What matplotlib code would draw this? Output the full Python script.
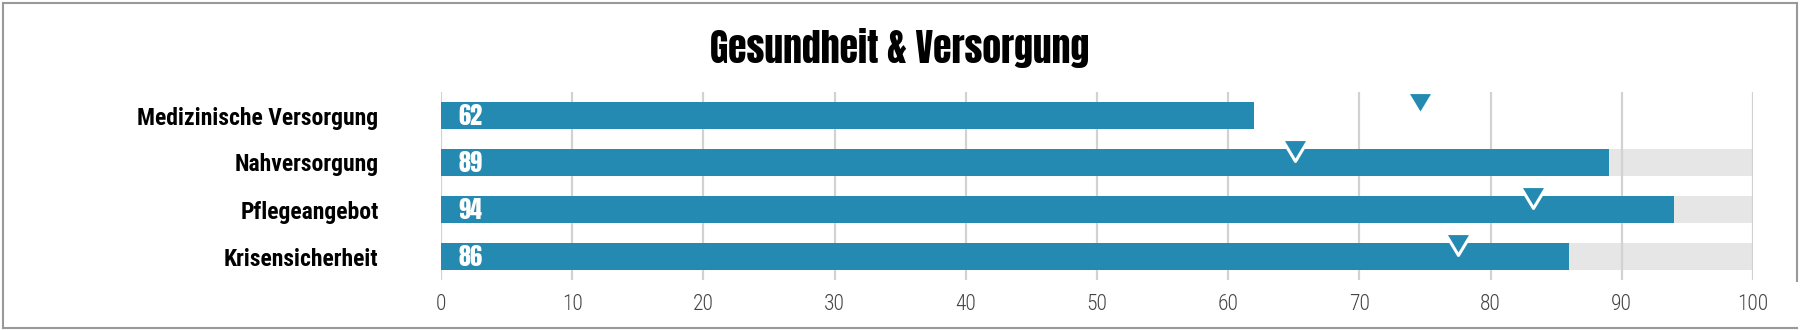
import matplotlib
matplotlib.use("Agg")
import matplotlib.pyplot as plt
from matplotlib import font_manager as fm
from matplotlib.lines import Line2D

# Daten
title = "Gesundheit & Versorgung"
categories = ["Medizinische Versorgung", "Nahversorgung", "Pflegeangebot", "Krisensicherheit"]
values = [62, 89, 94, 86]
targets = [74.6, 65.1, 83.2, 77.5]
show_track = [False, True, True, True]
max_value = 100
ticks = [0, 10, 20, 30, 40, 50, 60, 70, 80, 90, 100]

blue = "#248ab2"
track = "#e6e6e6"

installed = {f.name for f in fm.fontManager.ttflist}


def pick(*names):
    for n in names:
        if n in installed:
            return [n, "DejaVu Sans"]
    return ["DejaVu Sans"]


heavy = pick("Anton", "Oswald", "Bebas Neue", "Fjalla One")
cond = pick("Roboto Condensed", "Pragati Narrow", "Liberation Sans Narrow")

W, H = 1800, 330
fig = plt.figure(figsize=(W / 100, H / 100), dpi=100)
ax = fig.add_axes([441 / W, 50 / H, 1312 / W, 188 / H])

rows = list(range(len(categories)))

# grauer Hintergrund bis 100
for i, v in enumerate(values):
    if show_track[i]:
        ax.barh(i, max_value - v, left=v, height=0.556, color=track, zorder=1)

ax.barh(rows, values, height=0.556, color=blue, zorder=3)

# Zielmarken
tri = [(-1, 0.83), (1, 0.83), (0, -0.83), (-1, 0.83)]
for i, t in enumerate(targets):
    ax.plot(t, i - 0.256, marker=tri, ms=19, color=blue, mec="white",
            mew=2.2, zorder=4, clip_on=False)

# Werte in den Balken
for i, v in enumerate(values):
    ax.text(1.3, i + 0.02, str(v), color="white", fontsize=17.5,
            family=heavy, va="center", ha="left", zorder=5)

ax.set_xlim(0, max_value)
ax.set_ylim(len(categories) - 0.5, -0.5)
ax.set_xticks(ticks)
ax.set_xticklabels([str(t) for t in ticks], family=cond, fontweight="light",
                   fontsize=15.5, color="#444444")
ax.set_yticks(rows)
ax.set_yticklabels(categories, family=cond, fontsize=17, fontweight="bold", color="black")
ax.tick_params(axis="y", length=0, pad=45)
ax.tick_params(axis="x", length=0, pad=10)
ax.grid(axis="x", color="#d2d2d2", lw=1.6)
ax.grid(axis="y", visible=False)
ax.set_axisbelow("line")
for s in ax.spines.values():
    s.set_visible(False)

fig.text(0.5, 1 - 48 / H, title, ha="center", va="center", fontsize=27,
         family=heavy)

# Rahmen
border = "#999999"
fig.add_artist(Line2D([3 / W, 1797 / W], [1 - 3 / H, 1 - 3 / H], transform=fig.transFigure, color=border, lw=1.5))
fig.add_artist(Line2D([3 / W, 3 / W], [2.5 / H, 1 - 3 / H], transform=fig.transFigure, color=border, lw=1.5))
fig.add_artist(Line2D([3 / W, 1797 / W], [2.5 / H, 2.5 / H], transform=fig.transFigure, color=border, lw=1.5))
fig.add_artist(Line2D([1797 / W, 1797 / W], [1 - 281 / H, 1 - 3 / H], transform=fig.transFigure, color=border, lw=1.5))

fig.savefig("out.png", dpi=100)
